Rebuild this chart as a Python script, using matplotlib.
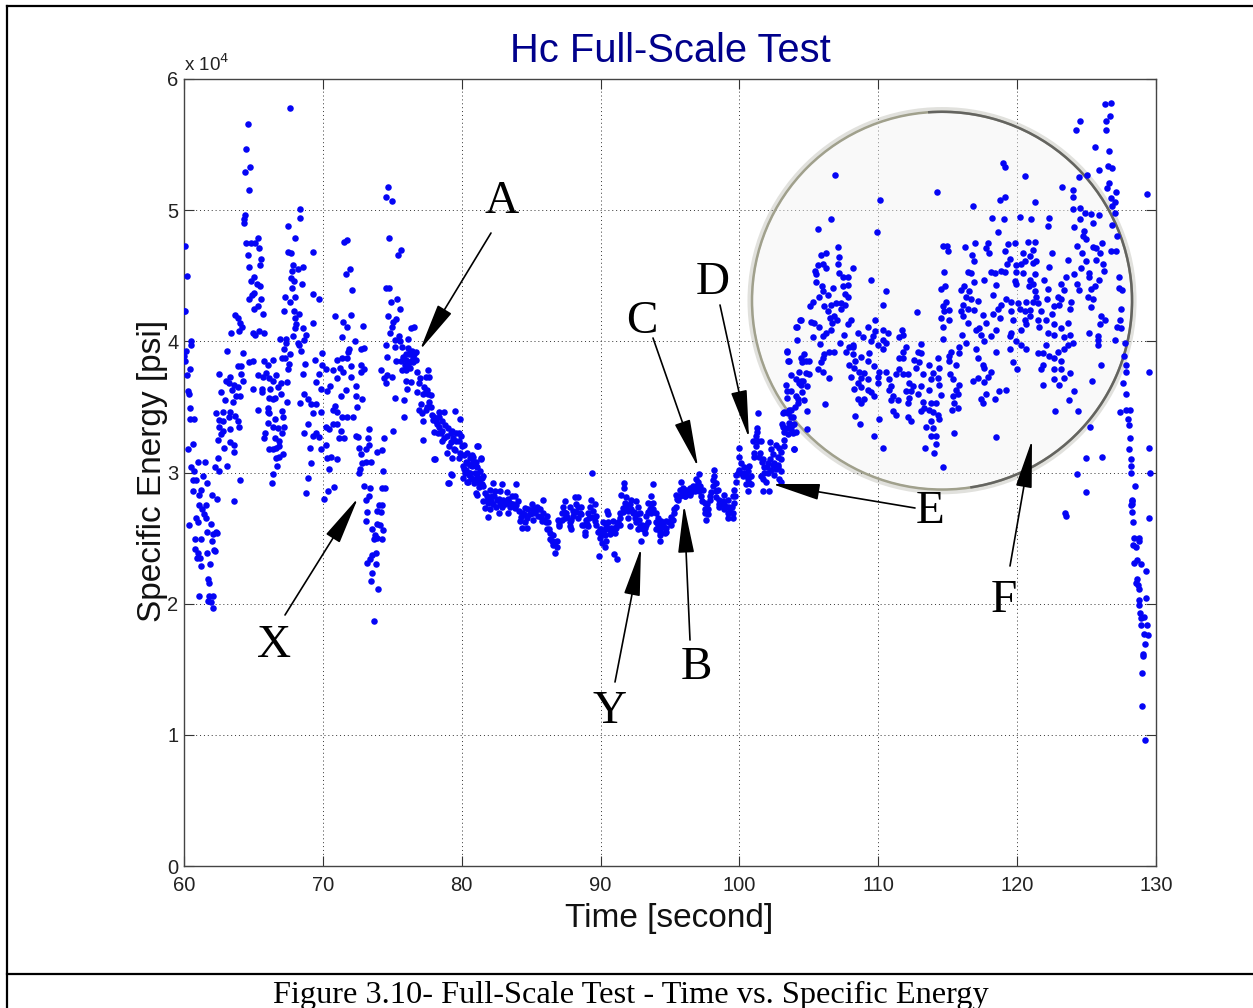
import matplotlib.pyplot as plt
from matplotlib.patches import Arc, Ellipse, FancyArrowPatch
from matplotlib.lines import Line2D

# values: (time [s], specific energy [1e4 psi])
seg_60 = [(60.07,4.73),(60.2,4.5),(60.0,4.23),(60.07,4.23),(60.5,4.0),(60.5,3.97),(60.15,3.93),(60.03,3.89),(60.07,3.85),(60.43,3.79),
    (60.2,3.74),(60.26,3.62),(60.38,3.6),(60.43,3.49),(60.43,3.41),(60.74,3.41),(60.62,3.22),(60.31,3.18),(60.5,3.04),(60.74,3.01),
    (60.98,3.08),(61.5,3.08),(61.34,2.97),(60.67,2.94),(60.86,2.94),(61.63,2.92),(60.62,2.86),(61.22,2.87),(61.1,2.83),(62.0,2.83),
    (62.35,2.8),(61.05,2.75),(61.58,2.75),(61.27,2.72),(61.46,2.68),(60.86,2.65),(61.58,2.65),(60.38,2.6),(60.98,2.62),(61.94,2.61),
    (61.65,2.55),(62.3,2.55),(62.06,2.53),(62.37,2.54),(62.0,2.48),(60.82,2.49),(61.22,2.49),(60.82,2.42),(60.98,2.39),(62.18,2.41),
    (62.23,2.4),(61.63,2.39),(60.91,2.35),(61.15,2.35),(61.89,2.3),(61.22,2.29),(61.75,2.19),(61.82,2.16),(61.1,2.06),(62.06,2.06),
    (61.82,2.06),(61.75,2.02),(61.94,2.01),(62.06,1.97)]
seg_62 = [(64.58,5.66),(64.46,5.47),(64.77,5.33),(64.39,5.29),(64.7,5.15),(64.41,4.96),(64.34,4.93),(64.34,4.9),(65.32,4.79),(64.46,4.75),
    (64.82,4.75),(65.13,4.75),(65.37,4.71),(64.58,4.66),(65.54,4.63),(64.65,4.57),(65.47,4.58),(65.06,4.49),(64.82,4.46),(65.23,4.44),
    (65.47,4.42),(65.06,4.37),(64.89,4.35),(64.7,4.32),(65.54,4.32),(65.3,4.27),(65.06,4.25),(65.66,4.21),(63.69,4.2),(63.86,4.18),
    (64.03,4.14),(64.17,4.11),(63.93,4.08),(63.38,4.06),(64.94,4.06),(65.13,4.05),(65.37,4.08),(65.73,4.06),(63.07,3.93),(64.27,3.91),
    (64.7,3.84),(64.94,3.85),(63.86,3.81),(64.1,3.81),(62.54,3.75),(64.1,3.75),(63.3,3.73),(65.3,3.74),(63.02,3.7),(64.27,3.7),
    (63.21,3.68),(63.62,3.67),(63.86,3.65),(64.94,3.64),(63.45,3.63),(62.66,3.61),(63.74,3.58),(64.05,3.58),(62.97,3.55),(63.5,3.54),
    (65.32,3.48),(62.3,3.45),(62.78,3.46),(63.33,3.46),(63.26,3.42),(63.67,3.43),(62.54,3.4),(63.86,3.39),(62.78,3.39),(62.54,3.35),
    (63.33,3.33),(63.98,3.35),(62.78,3.32),(62.66,3.29),(62.42,3.25),(63.33,3.23),(63.62,3.21),(62.85,3.19),(63.62,3.16),(62.42,3.11),
    (62.25,3.04),(63.07,3.05),(62.54,3.01),(64.03,2.94),(63.57,2.78)]
seg_66 = [(67.63,5.78),(68.35,5.01),(68.35,4.94),(67.48,4.88),(68.0,4.79),(67.46,4.68),(67.7,4.67),(67.82,4.58),(68.58,4.57),(68.23,4.55),
    (67.77,4.54),(67.7,4.48),(67.94,4.46),(68.49,4.44),(67.77,4.41),(67.29,4.34),(68.0,4.34),(67.65,4.3),(67.22,4.23),(67.94,4.23),
    (68.3,4.21),(68.0,4.18),(68.06,4.13),(68.58,4.1),(68.0,4.1),(68.78,4.05),(66.9,4.02),(67.34,4.02),(68.66,4.01),(67.87,4.04),
    (68.18,3.99),(67.34,3.99),(68.3,3.97),(67.17,3.94),(68.44,3.93),(67.63,3.9),(67.29,3.87),(67.05,3.87),(65.78,3.85),(66.38,3.86),
    (66.02,3.82),(67.53,3.83),(68.7,3.83),(67.46,3.79),(65.9,3.76),(66.62,3.74),(65.66,3.73),(68.54,3.75),(66.14,3.72),(66.38,3.7),
    (67.39,3.69),(66.98,3.68),(66.74,3.65),(65.61,3.64),(66.21,3.64),(65.59,3.61),(66.98,3.6),(68.66,3.6),(66.14,3.57),(66.57,3.57),
    (66.38,3.56),(67.41,3.54),(68.34,3.53),(66.02,3.49),(66.07,3.46),(67.05,3.47),(66.14,3.45),(66.57,3.41),(67.15,3.42),(66.02,3.38),
    (66.38,3.35),(67.22,3.35),(66.74,3.34),(67.05,3.3),(65.85,3.3),(68.66,3.3),(65.73,3.26),(66.57,3.26),(66.86,3.24),(66.14,3.18),
    (66.38,3.18),(66.62,3.19),(66.81,3.2),(67.1,3.14),(66.86,3.12),(66.62,3.11),(66.69,3.05),(66.38,2.99),(66.33,2.92),(68.9,2.96),(68.82,2.84)]
seg_69 = [(69.3,4.68),(69.3,4.36),(69.69,4.32),(69.26,4.14),(71.53,4.76),(71.77,4.77),(71.94,4.55),(71.65,4.51),(72.09,4.39),(70.86,4.19),
    (71.46,4.15),(72.01,4.2),(71.73,4.11),(72.9,4.12),(71.41,4.03),(72.28,4.0),(71.89,3.94),(71.82,3.92),(69.93,3.91),(72.73,3.94),
    (72.97,3.95),(71.05,3.86),(69.42,3.86),(71.41,3.87),(71.77,3.87),(69.93,3.82),(70.22,3.79),(71.22,3.8),(70.7,3.78),(72.01,3.81),
    (72.73,3.82),(72.97,3.79),(71.46,3.77),(69.74,3.75),(72.73,3.77),(69.5,3.69),(71.0,3.72),(72.0,3.73),(72.37,3.66),(69.86,3.64),
    (70.5,3.66),(71.65,3.63),(70.29,3.62),(71.3,3.58),(72.37,3.58),(72.8,3.56),(68.9,3.56),(69.14,3.52),(69.5,3.52),(70.86,3.51),
    (72.49,3.5),(69.26,3.45),(69.86,3.46),(70.7,3.48),(71.05,3.46),(71.41,3.42),(71.77,3.42),(72.2,3.42),(68.9,3.37),(70.22,3.35),
    (70.7,3.37),(71.05,3.37),(70.46,3.33),(71.3,3.32),(69.5,3.3),(69.26,3.28),(69.74,3.27),(71.17,3.26),(71.53,3.26),(72.37,3.28),
    (72.56,3.27),(70.22,3.21),(69.9,3.18),(69.09,3.19),(70.29,3.11),(70.62,3.12),(71.05,3.1),(69.18,3.07),(70.46,3.03),(70.77,2.89),
    (70.34,2.86),(70.1,2.8)]
seg_73 = [(73.29,3.33),(73.26,3.26),(72.61,3.19),(73.33,3.21),(73.09,3.18),(72.73,3.14),(74.41,3.26),(73.93,3.16),(74.29,3.17),(72.8,3.07),
    (73.09,3.08),(73.45,3.08),(72.66,3.03),(72.61,3.0),(74.36,3.01),(72.97,2.9),(73.38,2.88),(74.29,2.88),(74.48,2.88),(73.33,2.82),
    (73.14,2.79),(74.05,2.75),(74.24,2.75),(73.93,2.71),(74.17,2.7),(73.17,2.7),(73.09,2.63),(73.93,2.61),(74.1,2.6),(73.57,2.57),
    (74.36,2.56),(73.74,2.52),(73.93,2.5),(74.29,2.49),(73.69,2.49),(73.81,2.39),(73.53,2.37),(73.41,2.34),(73.21,2.31),(73.81,2.3),
    (73.57,2.23),(73.5,2.17),(73.98,2.11),(73.65,1.87)]
seg_75 = [(74.7,5.18),(74.58,5.1),(74.96,5.07),(74.77,4.79),(75.61,4.7),(75.4,4.66),(74.53,4.41),(74.77,4.41),(75.37,4.32),(74.89,4.3),
    (75.56,4.25),(74.7,4.19),(75.25,4.17),(75.06,4.15),(74.96,4.11),(76.57,4.11),(76.33,4.1),(74.84,4.06),(75.49,4.04),(75.2,4.01),
    (75.54,4.0),(76.14,4.02),(74.58,3.97),(75.2,3.96),(75.73,3.96),(76.45,3.93),(76.74,3.92),(74.65,3.88),(76.21,3.9),(76.57,3.9),
    (75.25,3.85),(75.61,3.85),(76.02,3.86),(76.33,3.85),(75.73,3.78),(76.02,3.78),(74.17,3.78),(74.65,3.74),(75.01,3.73),(74.41,3.72),
    (74.53,3.68),(75.97,3.7),(76.33,3.69),(76.09,3.64),(75.2,3.57),(75.87,3.55),(75.85,3.42),(75.06,3.32),
    (75.9,3.82),(76.1,3.82),(76.3,3.8),(76.5,3.88),(76.7,3.86),(76.3,3.92),(76.0,3.9),(76.5,3.84),(75.8,3.88),(76.1,3.95)]
seg_77 = [(76.81,3.77),(77.6,3.78),(77.41,3.73),(77.65,3.73),(76.93,3.68),(77.29,3.65),(77.53,3.63),(76.81,3.61),(77.77,3.59),(77.65,3.54),
    (76.93,3.48),(77.41,3.48),(77.17,3.45),(77.89,3.44),(78.37,3.46),(78.73,3.46),(79.52,3.47),(77.22,3.39),(78.13,3.39),(78.61,3.39),
    (79.86,3.41),(78.37,3.35),(79.33,3.32),(78.01,3.31),(78.49,3.3),(78.97,3.28),(79.57,3.3),(79.93,3.28),(77.24,3.25),(78.61,3.24),
    (79.2,3.23),(79.81,3.24),(80.17,3.21),(81.13,3.2),(79.44,3.18),(78.97,3.15),(79.33,3.11),(79.81,3.11),(78.01,3.1),(80.77,3.13),
    (81.37,3.11),(80.29,3.08),(80.65,3.06),(80.17,3.03),(81.0,3.05),(80.53,3.0),(81.13,2.99),(79.26,2.99),(78.99,2.92),(81.49,2.96),
    (80.41,2.93),(81.0,2.84),(81.25,2.89)]
seg_80 = [(80.6,3.11),(80.12,3.05),(80.84,3.12),(81.2,3.2),(81.39,3.1),(80.36,3.07),(80.72,3.05),(81.08,3.04),(80.24,3.0),(80.6,3.0),
    (80.96,3.0),(81.32,3.01),(81.56,2.97),(80.12,2.96),(80.48,2.93),(80.84,2.95),(81.2,2.93),(81.44,2.91),(81.08,2.83),(79.33,2.98),
    (79.07,2.92),(78.08,3.1)]
seg_82 = [(82.28,2.92),(82.87,2.91),(83.88,2.91),(82.04,2.87),(82.4,2.86),(82.75,2.86),(83.23,2.85),(83.59,2.82),(83.83,2.82),(81.8,2.82),
    (82.16,2.82),(82.51,2.79),(82.99,2.79),(83.35,2.78),(84.07,2.78),(81.56,2.78),(81.92,2.77),(82.28,2.76),(82.75,2.76),(83.47,2.74),
    (83.83,2.73),(81.68,2.73),(82.04,2.72),(82.68,2.69),(83.35,2.69),(81.92,2.66),(85.87,2.79),(85.03,2.76),(85.39,2.74),(84.55,2.73),
    (84.79,2.72),(85.63,2.72),(84.31,2.69),(85.15,2.69),(85.87,2.69),(84.67,2.67),(85.51,2.67),(86.11,2.67),(84.19,2.63),(84.55,2.62),
    (85.15,2.64),(85.75,2.63),(86.23,2.62),(84.31,2.58),(84.67,2.58),(86.11,2.57),(86.35,2.54),(86.59,2.52),(86.35,2.49),(86.83,2.48),
    (86.59,2.45),(86.83,2.43),(86.71,2.39)]
seg_87 = [(87.43,2.78),(88.14,2.81),(88.38,2.81),(89.34,2.79),(87.31,2.74),(87.78,2.74),(88.26,2.76),(88.62,2.74),(89.22,2.74),(89.58,2.76),
    (87.19,2.69),(87.54,2.69),(88.02,2.71),(88.5,2.69),(89.1,2.69),(89.46,2.71),(86.95,2.64),(87.43,2.65),(87.9,2.64),(88.38,2.65),
    (88.98,2.64),(89.7,2.67),(87.02,2.59),(87.78,2.59),(87.9,2.57),(88.69,2.6),(89.1,2.59),(88.86,2.55),(88.86,2.52),(89.7,2.6),
    (89.41,3.0),(89.89,2.36),(89.94,2.57)]
seg_90 = [(90.47,2.71),(90.54,2.68),(90.18,2.62),(90.54,2.62),(90.9,2.63),(91.26,2.62),(90.06,2.57),(90.42,2.57),(90.78,2.58),(91.14,2.58),
    (91.38,2.6),(89.94,2.5),(90.3,2.52),(90.66,2.53),(91.02,2.54),(90.13,2.46),(90.42,2.48),(90.3,2.43),(90.95,2.38),(91.19,2.34),
    (91.66,2.92),(91.66,2.88),(91.5,2.83),(91.86,2.81),(92.22,2.79),(92.57,2.78),(91.74,2.77),(92.1,2.76),(92.69,2.74),(91.62,2.73),
    (91.38,2.69),(92.34,2.69),(92.81,2.69),(91.98,2.65),(92.46,2.65),(92.1,2.59),(92.57,2.62),(92.81,2.59),(93.29,2.6),(92.69,2.57),
    (93.05,2.57),(93.41,2.62),(93.17,2.54),(92.93,2.48),(93.77,2.91),(93.65,2.82),(93.41,2.77),(93.77,2.77),(93.53,2.72),(94.01,2.69),
    (93.65,2.69),(93.29,2.67),(94.13,2.65)]
seg_94 = [(94.01,2.62),(94.37,2.63),(94.73,2.63),(95.21,2.64),(94.01,2.57),(94.37,2.58),(94.73,2.58),(95.09,2.6),(94.25,2.52),(94.61,2.54),
    (94.25,2.48),(95.26,2.69),(95.4,2.74),(95.57,2.79),(95.45,2.83),(95.81,2.93),(95.93,2.88),(95.69,2.87),(96.17,2.87),(96.41,2.88),
    (96.65,2.9),(96.84,2.95),(97.08,2.99),(97.01,2.93),(96.05,2.82),(96.41,2.83),(97.13,2.9),(97.37,2.87),(96.77,2.86),(97.25,2.82),
    (97.49,2.77),(97.73,2.72),(97.49,2.69),(97.73,2.68),(97.61,2.64),(97.85,2.79),(97.96,2.85),(98.08,2.9),(98.2,2.97),(98.16,3.02),
    (98.32,2.92),(98.44,2.87),(98.32,2.81),(98.56,2.79),(98.92,2.83),(98.8,2.78),(99.16,2.79),(99.52,2.82),(98.56,2.74),(98.92,2.72),
    (99.28,2.74),(99.64,2.87),(99.59,2.77),(99.16,2.69),(99.52,2.69),(99.16,2.65),(99.52,2.65)]
seg_100 = [(100.0,3.19),(99.95,3.12),(100.12,3.07),(100.0,3.02),(99.76,2.98),(99.76,2.93),(100.36,3.04),(100.6,3.01),(100.72,3.05),(100.24,2.97),
    (100.6,2.95),(100.84,2.97),(100.48,2.91),(100.84,2.91),(100.6,2.86),(101.32,3.45),(101.25,3.34),(101.25,3.31),(101.2,3.28),(100.96,3.24),
    (101.32,3.24),(101.56,3.24),(101.08,3.15),(101.08,3.12),(101.51,3.15),(102.23,3.23),(102.63,3.21),(102.28,3.18),(102.87,3.19),(103.23,3.25),
    (102.4,3.14),(102.75,3.12),(101.68,3.1),(102.04,3.07),(102.52,3.07),(103.0,3.1),(101.8,3.04),(102.28,3.02),(102.75,3.04),(103.0,3.01),
    (101.56,2.97),(102.04,3.0),(102.52,2.98),(101.68,2.95),(101.92,2.93),(102.87,2.95),(103.0,2.93),(101.73,2.86),(102.12,2.86),(103.95,3.18),
    (103.11,3.35),(103.23,3.31),(103.47,3.29),(103.83,3.3),(103.11,3.45),(103.47,3.45),(103.83,3.42),(103.71,3.48),(103.95,3.37),(104.07,3.31),
    (103.4,3.93),(103.55,3.85),(104.1,4.11),(104.41,4.16),(104.3,3.68)]
seg_105 = [(106.9,5.27),(106.59,4.93),(105.63,4.86),(107.12,4.72),(105.87,4.66),(106.27,4.67),(107.14,4.64),(107.12,4.59),(105.63,4.58),(105.99,4.59),
    (105.46,4.54),(106.27,4.56),(108.2,4.56),(105.55,4.51),(107.19,4.52),(107.48,4.49),(107.79,4.49),(105.55,4.45),(105.94,4.42),(106.71,4.41),
    (107.43,4.42),(107.79,4.43),(105.99,4.38),(107.62,4.36),(106.35,4.35),(105.7,4.34),(107.79,4.34),(105.31,4.3),(106.59,4.28),(106.95,4.29),
    (107.31,4.29),(107.62,4.28),(105.07,4.27),(106.11,4.27),(107.31,4.25),(106.38,4.23),(106.79,4.19),(106.55,4.18),(107.03,4.16),(104.38,4.16),
    (105.14,4.15),(105.38,4.14),(104.18,4.11),(106.67,4.14),(108.0,4.16),(107.79,4.13),(105.75,4.11),(106.59,4.09),(106.27,4.06),(107.5,4.05),
    (105.3,4.03),(105.99,4.04),(104.18,4.01),(107.24,3.99),(105.82,3.98),(107.91,3.96),(108.15,3.97),(103.39,3.92),(106.47,3.92),(106.83,3.92),
    (107.67,3.92),(104.66,3.9),(106.11,3.9),(104.42,3.87),(105.99,3.87),(103.53,3.85),(104.78,3.85),(104.54,3.84),(105.87,3.84),(105.63,3.79),
    (105.99,3.77),(104.3,3.77),(103.7,3.74),(104.98,3.75),(106.42,3.72),(104.06,3.71),(103.34,3.67),(104.42,3.67),(104.9,3.66),(103.46,3.62),
    (104.54,3.61),(103.7,3.62),(104.06,3.58),(103.46,3.57),(104.66,3.55),(104.2,3.53),(106.18,3.52),(103.22,3.46),(103.58,3.48),(104.9,3.47),
    (103.7,3.42),(103.1,3.37),(103.7,3.33),(104.9,3.33),(103.94,3.18)]
seg_110 = [(110.14,5.08),(109.88,4.83),(109.47,4.47),(110.55,4.38),(110.31,4.28),(112.79,4.22),(109.76,4.16),(109.23,4.11),(110.31,4.09),(109.76,4.08),
    (110.67,4.06),(111.71,4.09),(108.51,4.06),(109.59,4.04),(108.87,4.03),(111.75,4.05),(110.31,4.01),(109.47,4.0),(111.51,4.03),(109.95,3.97),
    (110.55,3.99),(108.15,3.96),(113.08,3.98),(112.0,3.96),(110.31,3.94),(109.35,3.91),(112.84,3.92),(113.08,3.91),(111.75,3.92),(108.15,3.9),
    (108.75,3.88),(109.23,3.85),(108.34,3.85),(111.51,3.87),(111.75,3.87),(112.6,3.86),(114.28,3.87),(109.71,3.81),(107.91,3.82),(108.27,3.8),
    (112.96,3.84),(113.68,3.82),(110.07,3.77),(110.55,3.77),(108.63,3.77),(108.99,3.76),(111.51,3.79),(114.4,3.8),(112.72,3.8),(108.03,3.73),
    (108.75,3.72),(109.95,3.73),(111.27,3.75),(111.75,3.75),(112.12,3.75),(113.2,3.75),(113.92,3.76),(108.51,3.68),(109.23,3.71),(110.79,3.71),
    (113.8,3.71),(114.28,3.72),(109.95,3.68),(114.4,3.67),(108.27,3.64),(108.75,3.65),(109.23,3.63),(110.91,3.66),(112.24,3.68),(112.48,3.66),
    (113.08,3.66),(113.68,3.63),(109.47,3.61),(111.99,3.62),(112.36,3.62),(110.79,3.63),(109.71,3.58),(111.03,3.58),(112.24,3.57),(112.84,3.6),
    (114.52,3.59),(108.51,3.56),(108.99,3.56),(110.91,3.55),(111.39,3.55),(112.12,3.53),(108.75,3.53),(113.2,3.54),(113.8,3.53),(114.16,3.53),
    (113.32,3.49),(113.68,3.48),(111.03,3.47),(113.08,3.47),(113.92,3.46),(114.28,3.44),(111.27,3.44),(108.32,3.43),(112.12,3.42),(110.07,3.41),
    (114.4,3.41),(113.8,3.39),(112.36,3.39),(108.68,3.37),(113.44,3.35),(113.92,3.34),(113.8,3.28),(114.16,3.28),(109.66,3.28),(114.16,3.22),
    (110.36,3.19),(113.39,3.19),(114.04,3.15),(114.69,3.04),(114.21,5.14)]
seg_115 = [(114.69,4.73),(114.93,4.73),(115.0,4.69),(114.76,4.53),(114.52,4.4),(114.83,4.42),(114.88,4.3),(114.69,4.27),(115.07,4.24),(114.76,4.23),
    (114.52,4.18),(115.07,4.16),(114.64,4.11),(114.64,4.02),(115.24,3.92),(115.12,3.89),(115.07,3.85),(115.6,3.82),(115.19,3.75),(115.36,3.71),
    (115.84,3.67),(115.6,3.63),(115.36,3.58),(115.72,3.6),(115.48,3.53),(115.31,3.48),(115.72,3.49),(115.48,3.3),(116.25,4.72),(116.99,4.75),
    (117.88,4.75),(117.76,4.71),(117.96,4.67),(116.73,4.66),(116.92,4.61),(116.44,4.53),(116.68,4.52),(118.13,4.53),(118.37,4.52),(117.64,4.47),
    (116.92,4.45),(118.49,4.43),(116.2,4.42),(115.96,4.39),(116.56,4.38),(116.32,4.34),(118.25,4.35),(116.68,4.32),(117.16,4.31),(116.08,4.28),
    (116.44,4.25),(116.92,4.24),(115.96,4.23),(117.52,4.2),(118.25,4.21),(116.08,4.19),(116.44,4.14),(117.76,4.14),(117.28,4.1),(117.04,4.09),
    (118.49,4.09),(116.03,4.05),(117.4,4.05),(118.13,4.04),(116.32,3.99),(117.64,4.0),(115.84,3.96),(117.04,3.94),(118.49,3.92),(115.84,3.91),
    (117.2,3.87),(117.52,3.82),(117.64,3.8),(118.13,3.77),(117.2,3.72),(117.88,3.73),(116.85,3.7),(117.64,3.69),(117.76,3.6),(118.68,3.62),
    (119.21,3.63),(117.4,3.56),(117.52,3.53),(118.41,3.56),(118.49,3.27)]
seg_120 = [(119.01,5.36),(119.09,5.33),(120.58,5.26),(119.13,5.1),(118.73,5.08),(121.32,5.06),(116.85,5.03),(120.17,4.95),(118.2,4.94),(119.04,4.93),
    (121.0,4.93),(122.28,4.94),(122.21,4.88),(118.61,4.83),(119.81,4.75),(119.33,4.74),(120.77,4.76),(121.25,4.76),(121.13,4.7),(119.09,4.69),
    (120.41,4.67),(122.48,4.67),(120.94,4.65),(119.45,4.63),(121.13,4.6),(121.37,4.61),(120.53,4.61),(119.28,4.59),(119.93,4.58),(120.29,4.59),
    (122.28,4.57),(118.85,4.54),(119.93,4.53),(120.41,4.52),(119.09,4.53),(121.32,4.51),(120.89,4.47),(121.97,4.47),(119.81,4.46),(119.93,4.44),
    (121.13,4.44),(123.17,4.44),(120.85,4.42),(122.21,4.4),(121.25,4.38),(123.41,4.39),(121.37,4.34),(122.93,4.34),(119.21,4.32),(119.57,4.3),
    (120.05,4.29),(120.65,4.3),(121.13,4.3),(122.14,4.32),(123.17,4.32),(123.9,4.3),(118.85,4.28),(120.17,4.25),(121.49,4.29),(123.05,4.28),
    (118.6,4.25),(120.89,4.24),(122.62,4.27),(123.78,4.25),(119.57,4.23),(120.53,4.23),(121.73,4.23),(122.5,4.21),(120.89,4.19),(118.73,4.18),
    (119.69,4.16),(120.53,4.16),(121.49,4.16),(122.09,4.16),(123.65,4.14),(120.65,4.13),(122.62,4.13),(121.61,4.11),(120.29,4.09),(119.57,4.06),
    (123.17,4.1),(122.21,4.06),(122.69,4.05),(123.78,4.05),(119.45,4.04),(123.41,4.03),(119.93,4.0),(124.02,3.99),(120.29,3.97),(122.09,3.97),
    (123.65,3.97),(119.45,3.94),(120.65,3.94),(122.93,3.92),(121.49,3.91),(121.85,3.91),(123.41,3.94),(122.33,3.89),(122.69,3.87),(119.69,3.84),
    (123.17,3.85),(121.85,3.82),(119.98,3.79),(122.69,3.79),(123.17,3.79),(121.73,3.79),(123.78,3.76),(123.41,3.72),(122.69,3.71),(121.85,3.67),
    (123.0,3.67),(124.09,3.62),(123.73,3.55),(122.76,3.47),(124.38,3.47),(125.22,3.35),(126.13,3.12),(124.98,3.11),(124.3,2.99),(124.98,2.85),
    (123.45,2.69),(123.5,2.67)]
seg_126 = [(126.78,5.82),(126.35,5.81),(126.66,5.72),(126.42,5.68),(124.54,5.68),(124.21,5.61),(126.42,5.61),(125.58,5.48),(126.59,5.45),(126.54,5.34),
    (126.83,5.32),(125.87,5.31),(125.06,5.27),(124.45,5.25),(123.25,5.18),(126.59,5.21),(126.49,5.17),(124.01,5.15),(127.09,5.14),(126.78,5.09),
    (124.01,5.1),(127.02,5.06),(126.85,5.03),(124.01,5.01),(124.54,5.02),(124.9,4.98),(125.29,4.97),(125.87,4.96),(127.02,4.98),(124.54,4.93),
    (125.46,4.9),(126.85,4.89),(124.13,4.87),(124.85,4.84),(124.73,4.8),(124.98,4.78),(127.21,4.8),(126.13,4.75),(124.3,4.73),(125.46,4.72),
    (125.7,4.71),(127.14,4.69),(126.78,4.69),(124.68,4.67),(125.94,4.67),(125.65,4.62),(124.98,4.61),(123.65,4.62),(126.18,4.59),(124.61,4.56),
    (126.23,4.54),(125.17,4.52),(124.09,4.51),(123.53,4.49),(127.33,4.49),(125.14,4.49),(125.89,4.47),(124.33,4.44),(125.6,4.42),(127.33,4.41),
    (125.34,4.4),(124.45,4.39),(127.55,4.39),(125.1,4.34),(125.46,4.32),(125.34,4.26),(127.5,4.25),(126.06,4.19),(126.3,4.16),(125.94,4.13),
    (127.38,4.16),(127.21,4.11),(127.5,4.1),(125.17,4.06),(125.82,4.04),(125.82,4.01),(125.82,3.97),(127.02,4.01),(127.74,3.99),(126.06,3.82),(125.38,3.7)]
seg_128 = [(127.67,3.89),(127.81,3.82),(127.86,3.77),(129.5,3.77),(127.62,3.68),(127.86,3.6),(127.43,3.46),(127.86,3.48),(128.1,3.48),(127.96,3.41),
    (128.03,3.36),(128.1,3.26),(128.03,3.18),(129.5,3.19),(128.17,3.1),(128.17,3.05),(128.22,3.0),(129.59,3.0),(128.49,2.9),(128.29,2.79),
    (128.29,2.76),(129.35,5.12),(128.27,2.78),(128.22,2.75),(128.27,2.7),(128.32,2.62),(129.5,2.65),(128.44,2.5),(128.75,2.5),(128.8,2.48),
    (128.32,2.45),(128.56,2.43),(128.61,2.33),(128.44,2.31),(128.94,2.3),(129.28,2.25),(128.61,2.19),(128.56,2.16),(128.68,2.14),(128.8,2.11),
    (129.28,2.04),(128.75,2.03),(128.8,1.99),(128.87,1.93),(129.16,1.9),(128.92,1.89),(129.38,1.84),(128.94,1.84),(129.16,1.77),(129.45,1.76),
    (129.21,1.69),(129.09,1.62),(129.09,1.6),(129.02,1.47),(129.02,1.22),(129.21,0.96)]
# the dense band between 77 and 105 s
band_77 = [(77.0,3.72),(77.2,3.6),(77.4,3.62),(77.6,3.6),(77.8,3.5),(78.0,3.42),(78.2,3.37),(78.4,3.42),(78.6,3.32),(78.8,3.36),
    (79.0,3.34),(79.2,3.3),(79.4,3.26),(79.6,3.24),(79.8,3.3),(80.0,3.2),(77.1,3.52),(77.5,3.5),(77.9,3.4),(78.3,3.3),
    (78.7,3.26),(79.1,3.2),(79.5,3.17),(79.9,3.15),(80.2,3.13),(80.4,3.15),(80.6,3.06),(80.8,3.08),(81.0,3.08),(80.3,3.02),
    (80.5,2.98),(80.7,2.96),(80.9,2.92),(81.1,2.96),(81.3,2.95),(81.5,2.9)]
band_82 = [(81.7,2.84),(81.9,2.8),(82.1,2.78),(82.3,2.82),(82.5,2.74),(82.7,2.8),(82.9,2.74),(83.1,2.76),(83.3,2.8),(83.5,2.77),
    (83.7,2.76),(83.9,2.75),(84.1,2.71),(84.3,2.66),(84.5,2.68),(84.7,2.65),(84.9,2.68),(85.1,2.72),(85.3,2.7),(85.5,2.72),
    (85.7,2.66),(85.9,2.64),(86.1,2.62),(86.3,2.57),(86.5,2.48),(86.7,2.47),(87.0,2.61),(87.2,2.64),(87.4,2.7),(87.6,2.66),
    (87.8,2.62),(88.0,2.67),(88.2,2.7),(88.4,2.74),(88.6,2.68),(88.8,2.6),(89.0,2.61),(89.2,2.65),(89.4,2.66),(89.6,2.63),
    (89.8,2.55),(90.0,2.53),(90.2,2.55),(90.4,2.6),(90.6,2.57),(90.8,2.55),(91.0,2.58),(91.2,2.6),(91.4,2.65),(91.6,2.7)]
band_92 = [(91.8,2.74),(92.0,2.71),(92.2,2.72),(92.4,2.7),(92.6,2.68),(92.8,2.64),(93.0,2.6),(93.2,2.58),(93.4,2.7),(93.6,2.76),
    (93.8,2.72),(94.1,2.6),(94.3,2.55),(94.5,2.6),(94.7,2.55),(94.9,2.62),(95.1,2.66),(95.3,2.72),(95.5,2.8),(95.7,2.82),
    (95.9,2.84),(96.1,2.82),(96.3,2.86),(96.5,2.85),(96.7,2.87),(96.9,2.9),(97.1,2.86),(97.3,2.78),(97.5,2.72),(97.7,2.76),
    (97.9,2.82),(98.1,2.94),(98.3,2.86),(98.5,2.76),(98.7,2.76),(98.9,2.76),(99.1,2.74),(99.3,2.7),(99.5,2.74),(99.7,2.82),
    (99.9,3.0),(100.1,3.0),(100.3,3.0),(100.5,2.98),(100.7,2.92),(101.2,3.2),(101.4,3.12),(101.6,3.08),(101.8,3.0),(102.0,3.04),
    (102.2,3.1),(102.4,3.06),(102.6,3.03),(102.8,3.06),(103.0,3.16),(103.2,3.2),(103.4,3.34),(103.6,3.38),(103.8,3.36),(104.0,3.5),
    (104.2,3.56),(104.4,3.7),(104.6,3.7),(104.8,3.76),(105.0,3.85)]
segments = [seg_60, seg_62, seg_66, seg_69, seg_73, seg_75, seg_77, seg_80, seg_82, seg_87, seg_90, seg_94,
            seg_100, seg_105, seg_110, seg_115, seg_120, seg_126, seg_128, band_77, band_82, band_92]

x_ticks = [60, 70, 80, 90, 100, 110, 120, 130]
y_ticks = [0, 1, 2, 3, 4, 5, 6]

# letter, letter position, arrow tail, arrow tip (picture pixels)
callouts = [("A", (502, 202), (491, 233), (420, 350)),
            ("X", (274, 646), (285, 615), (358, 498)),
            ("Y", (610, 712), (615, 682), (641, 548)),
            ("B", (696, 668), (690, 640), (684, 505)),
            ("C", (642, 322), (653, 338), (698, 467)),
            ("D", (713, 283), (720, 305), (749, 438)),
            ("E", (930, 512), (915, 508), (772, 484)),
            ("F", (1004, 601), (1010, 566), (1032, 440))]

W, H = 1253, 1008


def fx(px):
    return px / W


def fy(py):
    return 1 - py / H


plt.rcParams['font.family'] = ['Liberation Sans', 'DejaVu Sans']
fig = plt.figure(figsize=(W / 100, H / 100), dpi=100, facecolor="white")
ax = fig.add_axes([fx(184), fy(866), fx(1156) - fx(184), fy(79) - fy(866)])
ax.set_xlim(60, 130)
ax.set_ylim(0, 6)
ax.set_xticks(x_ticks)
ax.set_yticks(y_ticks)
ax.tick_params(direction="in", top=True, right=True, length=7, width=0.8, labelsize=14.5, color="#333333",
               labelcolor="#222222")
ax.tick_params(axis="x", pad=7)
ax.tick_params(axis="y", pad=4)
ax.grid(True, linestyle=(0, (1, 3)), linewidth=0.7, color="#333333")
ax.set_axisbelow(True)
for s in ax.spines.values():
    s.set_color("#444444")
    s.set_linewidth(1.0)

# magnifier circle: pale fill, olive rim, dark upper right edge
cx, cy, cw, ch = 114.59, 4.31, 27.37, 2.88
ax.add_patch(Ellipse((cx, cy), cw, ch, fc="#f2f2f2", ec="none", alpha=0.45, zorder=1.5))
ax.add_patch(Ellipse((cx, cy), cw + 0.25, ch + 0.03, fc="none", ec="#888878", lw=4, alpha=0.25, zorder=1.6))
ax.add_patch(Ellipse((cx, cy), cw, ch, fc="none", ec="#a0a08c", lw=1.8, zorder=1.7))
ax.add_patch(Arc((cx, cy), cw, ch, theta1=-35, theta2=125, ec="#555555", lw=1.8, alpha=0.8, zorder=1.8))

for seg in segments:
    ax.plot([p[0] for p in seg], [p[1] for p in seg], linestyle="none", marker="o", ms=4.7, color="#0505f5", mew=0, zorder=3)

fig.text(fx(184), fy(64), "x 10$^{4}$", fontsize=13.5, ha="left", va="center", color="#222222", math_fontfamily="dejavusans")
fig.text(fx(670), fy(51), "Hc Full-Scale Test", fontsize=28.7, color="#00008b", ha="center", va="center")
fig.text(fx(669), fy(919), "Time [second]", fontsize=24, color="#111111", ha="center", va="center")
fig.text(fx(153), fy(471), "Specific Energy [psi]", fontsize=24, color="#111111", rotation=90, ha="center", va="center")

for letter, pos, tail, tip in callouts:
    fig.text(fx(pos[0]), fy(pos[1]), letter, fontsize=34, family="Liberation Serif", ha="center", va="center", color="black", zorder=6)
    fig.add_artist(FancyArrowPatch((fx(tail[0]), fy(tail[1])), (fx(tip[0]), fy(tip[1])), transform=fig.transFigure,
                                   arrowstyle="-|>,head_length=2.5,head_width=0.42", mutation_scale=12, lw=1.2, color="black",
                                   shrinkA=0, shrinkB=0, zorder=5))

# page border and caption line of the document
for xs, ys in [((7, 7), (6, 1008)), ((7, 1253), (6, 6)), ((7, 1253), (973.5, 973.5))]:
    fig.add_artist(Line2D([fx(xs[0]), fx(xs[1])], [fy(ys[0]), fy(ys[1])], color="black", lw=1.6))
fig.text(fx(631), fy(995), "Figure 3.10- Full-Scale Test - Time vs. Specific Energy", fontsize=23.3,
         family="Liberation Serif", ha="center", va="center", color="black")

fig.savefig("out.png", dpi=100)
